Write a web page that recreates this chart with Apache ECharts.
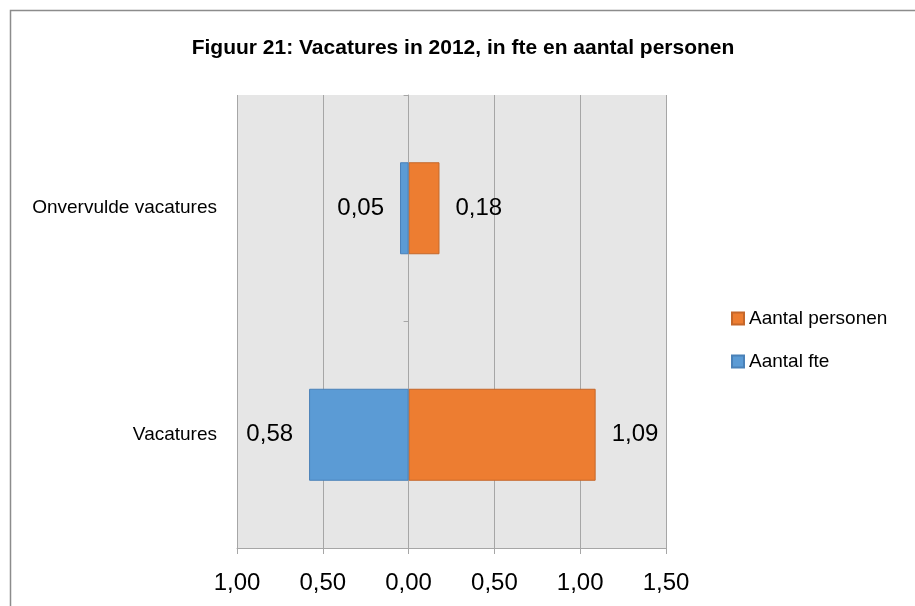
<!DOCTYPE html>
<html>
<head>
<meta charset="utf-8">
<script src="https://cdn.jsdelivr.net/npm/echarts@6/dist/echarts.min.js"></script>
<style>
  html, body { margin: 0; padding: 0; background: #ffffff; }
  #chart { width: 915px; height: 606px; }
</style>
</head>
<body>
<div id="chart"></div>
<script>
// Categories bottom-to-top (category axis starts at the bottom)
const categories = ['Vacatures', 'Onvervulde vacatures'];
// Aantal fte drawn to the left of zero, Aantal personen to the right
const fteValues = [0.58, 0.05];
const personenValues = [1.09, 0.18];
const seriesNames = ['Aantal personen', 'Aantal fte'];
const axisTicks = [-1, -0.5, 0, 0.5, 1, 1.5];

const FONT = '"Liberation Sans", Arial, sans-serif';
const fmt = v => Math.abs(v).toFixed(2).replace('.', ',');

const chart = echarts.init(document.getElementById('chart'), null, { renderer: 'canvas' });

chart.setOption({
  backgroundColor: '#ffffff',
  animation: false,
  textStyle: { fontFamily: FONT },
  graphic: [
    {
      type: 'rect',
      shape: { x: 10.5, y: 10.5, width: 1200, height: 1200 },
      style: { fill: 'none', stroke: '#8c8c8c', lineWidth: 1.5 },
      silent: true
    },
    {
      type: 'text',
      x: 463,
      y: 48,
      style: {
        text: 'Figuur 21: Vacatures in 2012, in fte en aantal personen',
        fill: '#000000',
        font: 'bold 21px ' + FONT,
        textAlign: 'center',
        textVerticalAlign: 'middle'
      }
    }
  ],
  legend: {
    orient: 'vertical',
    left: 731,
    top: 309,
    padding: 0,
    icon: 'rect',
    itemWidth: 12,
    itemHeight: 12,
    itemGap: 24,
    data: seriesNames,
    textStyle: { fontSize: 19, color: '#000000', fontFamily: FONT }
  },
  grid: {
    left: 237,
    right: 249,
    top: 95,
    bottom: 58,
    containLabel: false,
    outerBoundsMode: 'none',
    show: true,
    backgroundColor: '#e6e6e6',
    borderWidth: 0
  },
  xAxis: {
    type: 'value',
    min: axisTicks[0],
    max: axisTicks[axisTicks.length - 1],
    interval: 0.5,
    axisLine: { show: true, lineStyle: { color: '#a6a6a6', width: 1 } },
    axisTick: { show: true, length: 6, lineStyle: { color: '#a6a6a6' } },
    axisLabel: {
      formatter: fmt,
      fontSize: 24,
      color: '#000000',
      margin: 23,
      fontFamily: FONT
    },
    splitLine: { show: true, lineStyle: { color: '#a6a6a6', width: 1 } }
  },
  yAxis: {
    type: 'category',
    data: categories,
    axisLine: { show: true, onZero: true, lineStyle: { color: '#a6a6a6', width: 1 } },
    axisTick: { show: true, length: 5, lineStyle: { color: '#a6a6a6' } },
    axisLabel: {
      fontSize: 19,
      color: '#000000',
      margin: 20,
      fontFamily: FONT
    },
    splitLine: { show: false }
  },
  series: [
    {
      name: 'Aantal personen',
      type: 'bar',
      stack: 'total',
      barWidth: 92,
      data: personenValues,
      itemStyle: { color: '#ed7d31', borderColor: '#c5672a', borderWidth: 1 },
      label: {
        show: true,
        position: 'right',
        distance: 16,
        formatter: p => fmt(p.value),
        fontSize: 24,
        color: '#000000',
        fontFamily: FONT
      }
    },
    {
      name: 'Aantal fte',
      type: 'bar',
      stack: 'total',
      barWidth: 92,
      data: fteValues.map(v => -v),
      itemStyle: { color: '#5b9bd5', borderColor: '#4a81b8', borderWidth: 1 },
      label: {
        show: true,
        position: 'left',
        distance: 16,
        formatter: p => fmt(p.value),
        fontSize: 24,
        color: '#000000',
        fontFamily: FONT
      }
    }
  ]
});
</script>
</body>
</html>
